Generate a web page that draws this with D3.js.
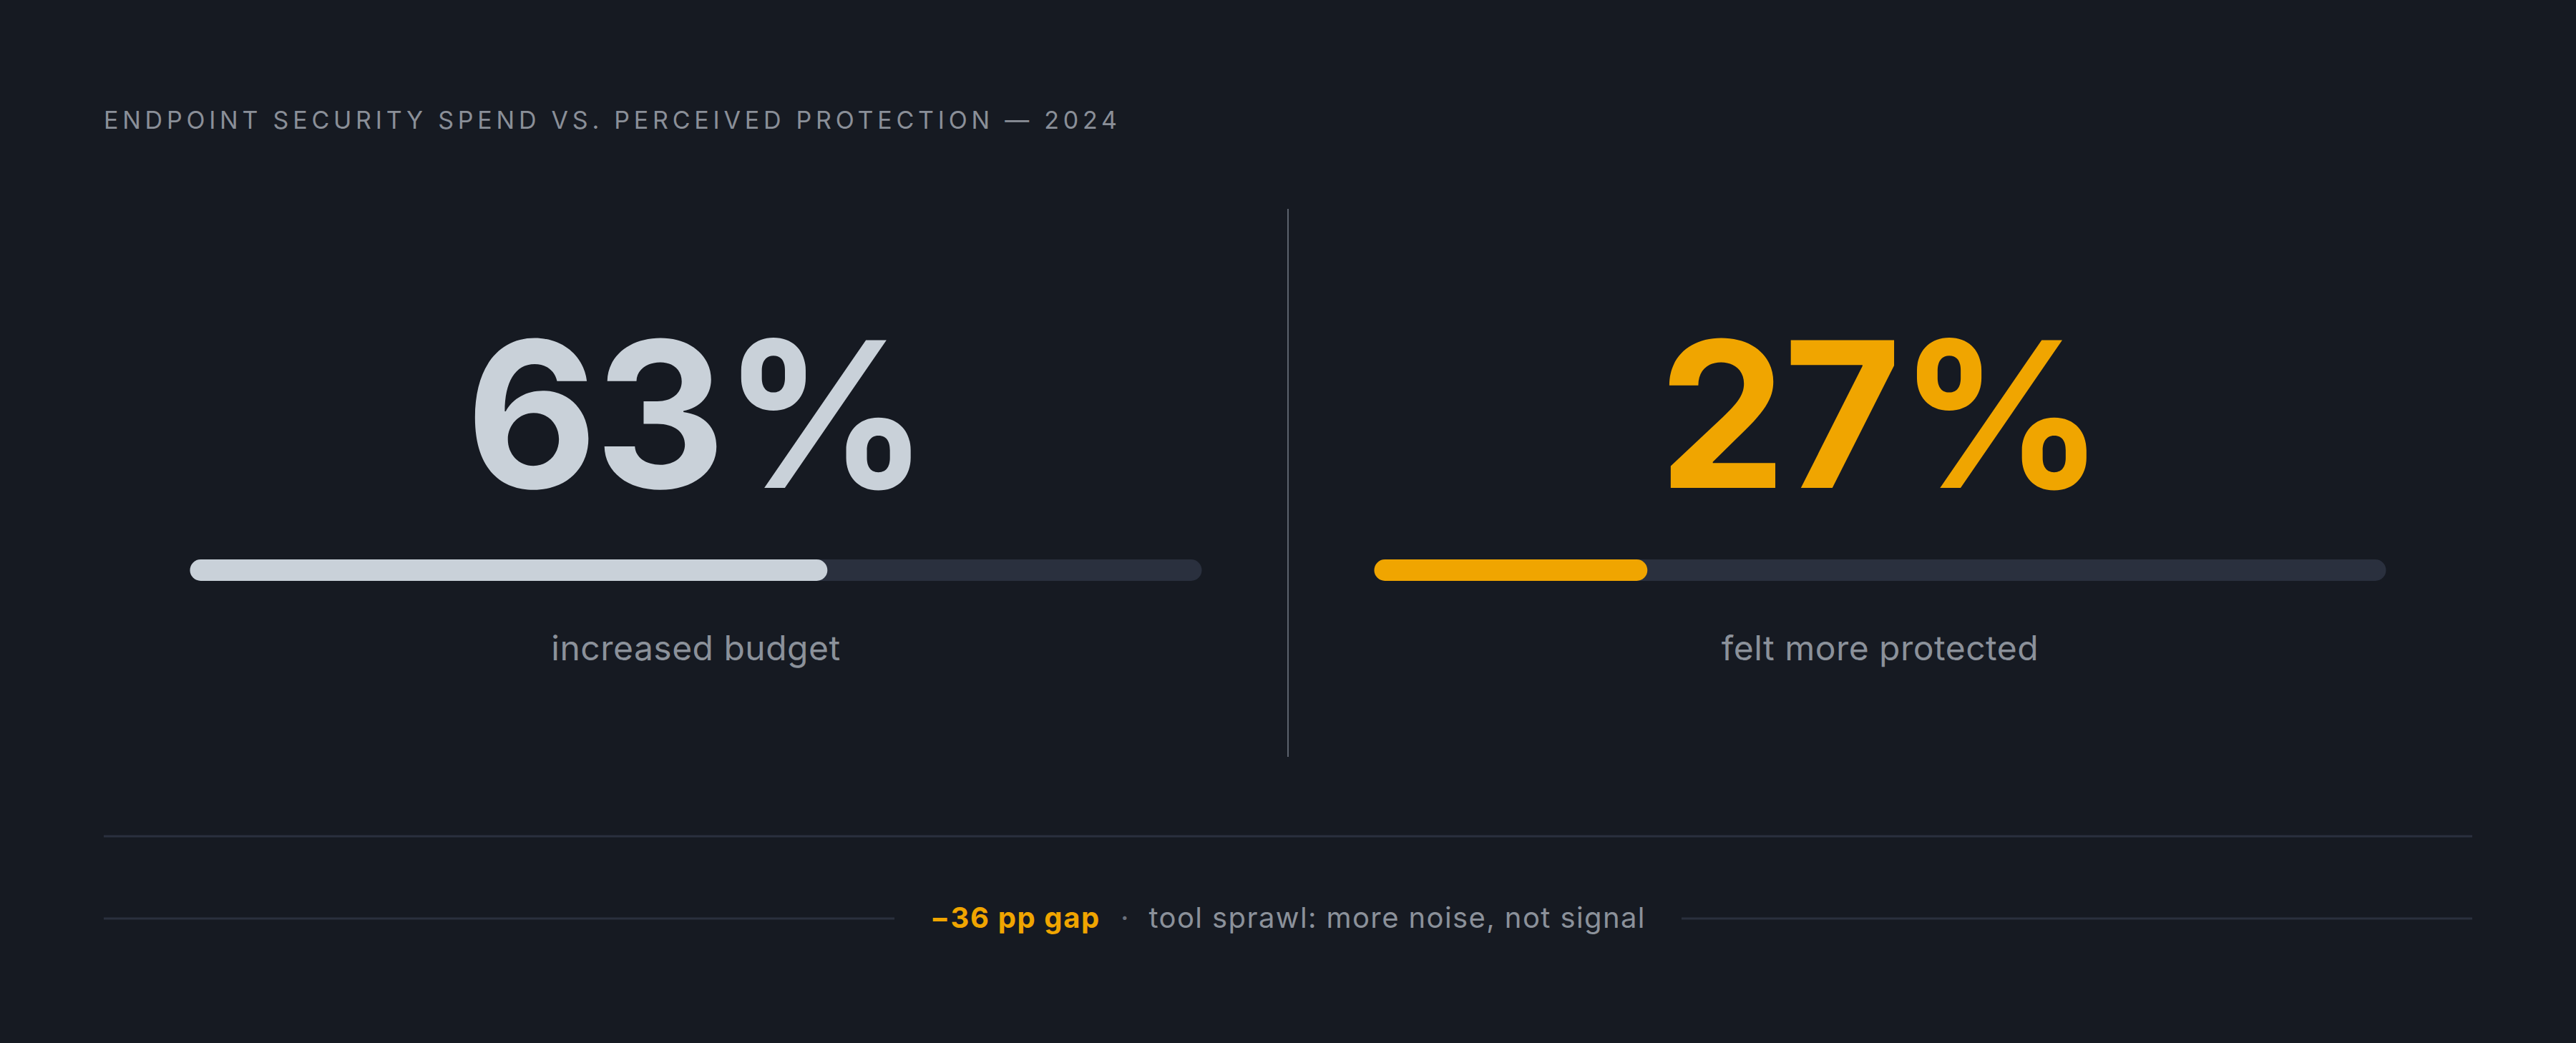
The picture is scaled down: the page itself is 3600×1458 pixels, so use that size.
<!DOCTYPE html>
<html>
<head>
<meta charset="utf-8">
<script src="https://cdn.jsdelivr.net/npm/d3@7"></script>
<style>
  html, body { margin: 0; padding: 0; background: #161a22; }
  svg { display: block; }
</style>
</head>
<body>
<div id="chart"></div>
<script>
// dados do gráfico
var titulo = "ENDPOINT SECURITY SPEND VS. PERCEIVED PROTECTION — 2024";
var rotulos = ["increased budget", "felt more protected"];
var valores = [63, 27];
var cores = ["#c9d1d9", "#f0a500"];
var gapTexto = "\u221236 pp gap";
var notaTexto = "tool sprawl: more noise, not signal";

var W = 3600, H = 1458;
var margem = { left: 145, right: 145 };
var meio = W / 2;

var svg = d3.select("#chart")
    .append("svg")
    .attr("width", W)
    .attr("height", H);

svg.append("rect")
    .attr("width", W)
    .attr("height", H)
    .attr("fill", "#161a22");

// título
svg.append("text")
    .attr("x", margem.left)
    .attr("y", 180)
    .attr("fill", "#8a8f98")
    .attr("font-family", "Inter, 'Noto Sans', sans-serif")
    .attr("font-size", 34)
    .attr("letter-spacing", "0.17em")
    .text(titulo);

// painéis: um por valor
var painel = d3.scaleBand()
    .domain(d3.range(valores.length))
    .range([margem.left, W - margem.right]);

var larguraBarra = 1414;

var g = svg.selectAll("g.painel")
    .data(valores)
    .enter()
    .append("g")
    .attr("class", "painel")
    .attr("transform", (d, i) => "translate(" + (painel(i) + painel.bandwidth() / 2) + ",0)");

// número grande
g.append("text")
    .attr("x", 0)
    .attr("y", 682)
    .attr("text-anchor", "middle")
    .attr("fill", (d, i) => cores[i])
    .attr("font-family", "Inter, Roboto, sans-serif")
    .attr("font-weight", 700)
    .attr("font-size", 284)
    .attr("letter-spacing", "-0.015em")
    .text(d => d + "%");

var x = d3.scaleLinear()
    .domain([0, 100])
    .range([-larguraBarra / 2, larguraBarra / 2]);

// trilho
g.append("rect")
    .attr("x", x(0))
    .attr("y", 782)
    .attr("width", x(100) - x(0))
    .attr("height", 30)
    .attr("rx", 15)
    .attr("fill", "#2a303e");

// preenchimento
g.append("rect")
    .attr("x", x(0))
    .attr("y", 782)
    .attr("width", d => x(d) - x(0))
    .attr("height", 30)
    .attr("rx", 15)
    .attr("fill", (d, i) => cores[i]);

// rótulo
g.append("text")
    .attr("x", 0)
    .attr("y", 923)
    .attr("text-anchor", "middle")
    .attr("fill", "#8b919a")
    .attr("font-family", "Inter, 'Noto Sans', sans-serif")
    .attr("font-size", 48)
    .attr("letter-spacing", "0.01em")
    .text((d, i) => rotulos[i]);

// divisor vertical
svg.append("line")
    .attr("x1", meio).attr("x2", meio)
    .attr("y1", 292).attr("y2", 1058)
    .attr("stroke", "#5c626d")
    .attr("stroke-width", 2);

// linha horizontal
svg.append("line")
    .attr("x1", margem.left).attr("x2", W - margem.right)
    .attr("y1", 1169).attr("y2", 1169)
    .attr("stroke", "#2a303e")
    .attr("stroke-width", 3);

// rodapé
var rodape = svg.append("text")
    .attr("x", meio)
    .attr("y", 1297)
    .attr("text-anchor", "middle")
    .attr("font-family", "Inter, 'Noto Sans', sans-serif")
    .attr("font-size", 40);

rodape.append("tspan")
    .attr("fill", "#f0a500")
    .attr("font-weight", 700)
    .attr("letter-spacing", "0.04em")
    .text(gapTexto);

rodape.append("tspan")
    .attr("fill", "#6b717c")
    .attr("dx", 28)
    .text("·");

rodape.append("tspan")
    .attr("fill", "#8b919a")
    .attr("dx", 28)
    .attr("letter-spacing", "0.035em")
    .text(notaTexto);

var caixa = rodape.node().getBBox();
var folga = 50;

svg.append("line")
    .attr("x1", margem.left).attr("x2", caixa.x - folga)
    .attr("y1", 1284).attr("y2", 1284)
    .attr("stroke", "#2a303e")
    .attr("stroke-width", 3);

svg.append("line")
    .attr("x1", caixa.x + caixa.width + folga).attr("x2", W - margem.right)
    .attr("y1", 1284).attr("y2", 1284)
    .attr("stroke", "#2a303e")
    .attr("stroke-width", 3);
</script>
</body>
</html>
